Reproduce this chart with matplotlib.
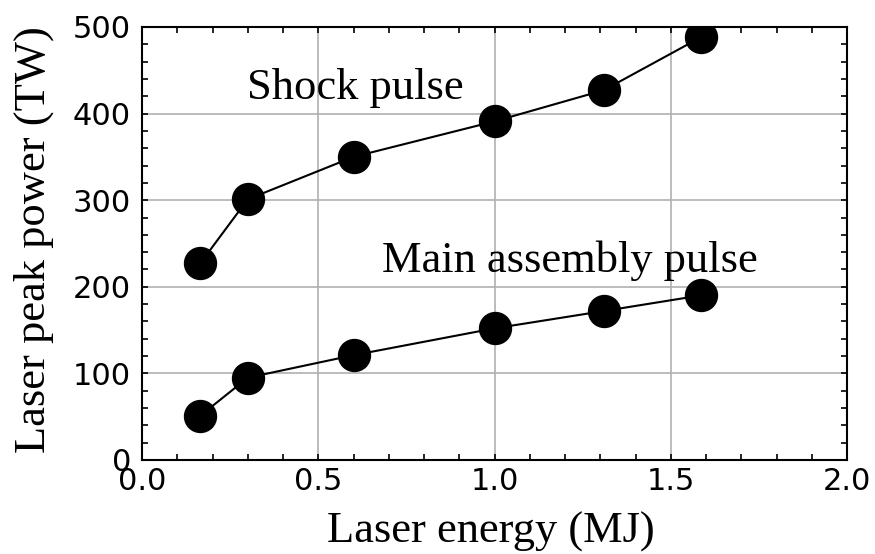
import matplotlib
matplotlib.use('Agg')
import matplotlib.pyplot as plt
from matplotlib.ticker import MultipleLocator

# laser energy (MJ) for each design point
energy = [0.165, 0.30, 0.60, 1.00, 1.31, 1.585]
# peak power (TW)
shock_power = [227, 301, 350, 391, 427, 488]
main_power = [51, 95, 121, 152, 172, 190]

fig = plt.figure(figsize=(8.75, 5.54), dpi=100)
ax = fig.add_axes([0.1623, 0.1697, 0.8057, 0.7816])

ax.plot(energy, shock_power, 'o-', color='black', lw=1.5, ms=23, zorder=3)
ax.plot(energy, main_power, 'o-', color='black', lw=1.5, ms=23, zorder=3)

ax.text(0.298, 417, 'Shock pulse', family='Liberation Serif', fontsize=32, va='baseline')
ax.text(0.681, 217, 'Main assembly pulse', family='Liberation Serif', fontsize=32, va='baseline')

ax.set_xlim(0, 2.0)
ax.set_ylim(0, 500)
ax.xaxis.set_major_locator(MultipleLocator(0.5))
ax.xaxis.set_minor_locator(MultipleLocator(0.1))
ax.yaxis.set_major_locator(MultipleLocator(100))
ax.yaxis.set_minor_locator(MultipleLocator(20))
ax.xaxis.set_major_formatter(plt.FuncFormatter(lambda v, p: '%.1f' % v))
ax.grid(True, which='major', color='#b0b0b0', lw=1.2)
ax.set_axisbelow(True)

ax.tick_params(which='both', direction='in', top=True, right=True, length=4, width=1.2)
ax.tick_params(axis='y', pad=8)
ax.tick_params(axis='x', pad=5)
for lab in ax.get_xticklabels() + ax.get_yticklabels():
    lab.set_family('DejaVu Sans')
    lab.set_fontsize(22)
for s in ax.spines.values():
    s.set_linewidth(1.5)

ax.set_xlabel('Laser energy (MJ)', family='Liberation Serif', fontsize=32, labelpad=0)
ax.set_ylabel('Laser peak power (TW)', family='Liberation Serif', fontsize=32, labelpad=2)
ax.xaxis.set_label_coords(0.495, -0.12)
ax.yaxis.set_label_coords(-0.125, 0.51)

fig.savefig('out.png', dpi=100)
